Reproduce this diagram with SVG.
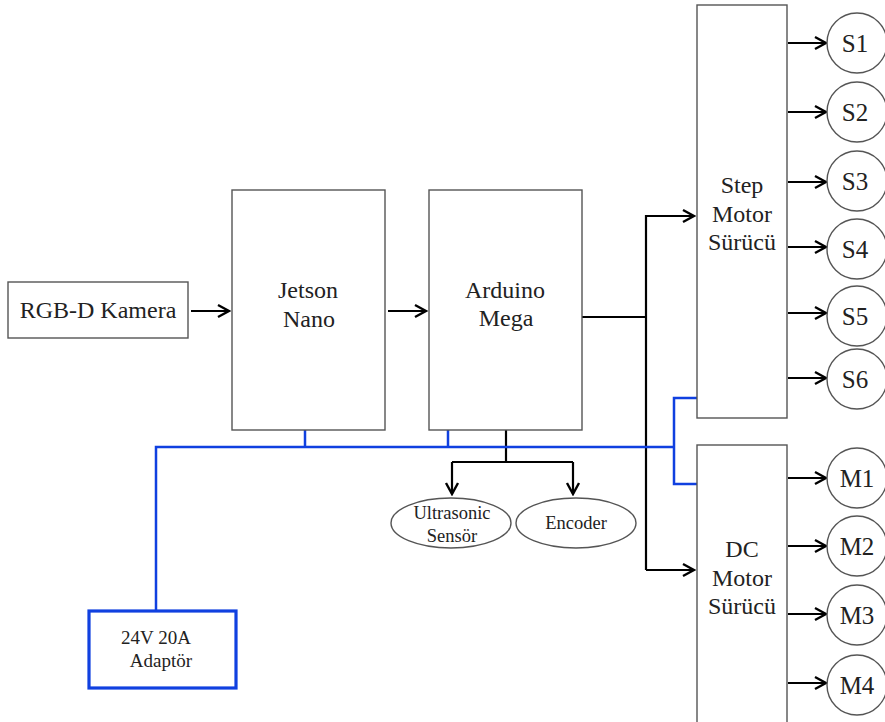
<svg xmlns="http://www.w3.org/2000/svg" width="885" height="722" viewBox="0 0 885 722">
<defs>
<marker id="ah" markerUnits="userSpaceOnUse" markerWidth="16" markerHeight="16" viewBox="0 0 16 16" refX="14" refY="8" orient="auto">
<path d="M3,2 L14,8 L3,14" fill="none" stroke="#000" stroke-width="2.4"/>
</marker>
</defs>
<style>
.box{fill:#fff;stroke:#555;stroke-width:1.4}
.t{font-family:"Liberation Serif","Times New Roman",serif;fill:#222;text-anchor:middle}
.big{font-size:24px}
.cl{font-size:25px}
.sm{font-size:18.5px}
.ar{stroke:#000;stroke-width:2.2;fill:none;marker-end:url(#ah)}
.ln{stroke:#000;stroke-width:2.2;fill:none}
.pw{stroke:#1040e0;stroke-width:2.5;fill:none}
</style>
<rect width="885" height="722" fill="#fff"/>
<g id="connectors">
<line class="ar" x1="191" y1="311" x2="229" y2="311"/>
<line class="ar" x1="388" y1="311" x2="426" y2="311"/>
<polyline class="ln" points="582,317 646,317"/>
<polyline class="ar" points="646,570 646,216 694,216"/>
<line class="ar" x1="646" y1="570" x2="694" y2="570"/>
<line class="ln" x1="506" y1="430" x2="506" y2="462"/>
<polyline class="ar" points="452,462 452,494"/>
<polyline class="ln" points="452,462 573,462"/>
<line class="ar" x1="573" y1="462" x2="573" y2="494"/>
<line class="ar" x1="788" y1="43" x2="826" y2="43"/>
<line class="ar" x1="788" y1="112" x2="826" y2="112"/>
<line class="ar" x1="788" y1="182" x2="826" y2="182"/>
<line class="ar" x1="788" y1="247" x2="826" y2="247"/>
<line class="ar" x1="788" y1="313" x2="826" y2="313"/>
<line class="ar" x1="788" y1="378" x2="826" y2="378"/>
<line class="ar" x1="788" y1="478" x2="826" y2="478"/>
<line class="ar" x1="788" y1="546" x2="826" y2="546"/>
<line class="ar" x1="788" y1="614" x2="826" y2="614"/>
<line class="ar" x1="788" y1="683" x2="826" y2="683"/>
<polyline class="pw" points="156,611 156,447 674,447"/>
<line class="pw" x1="305" y1="430" x2="305" y2="447"/>
<line class="pw" x1="448" y1="430" x2="448" y2="447"/>
<polyline class="pw" points="697,398 674,398 674,484 697,484"/>
</g>
<g id="kamera">
<rect class="box" x="8" y="282" width="180" height="56"/>
<text class="t big" x="98" y="318">RGB-D Kamera</text>
</g>
<g id="jetson">
<rect class="box" x="232" y="190" width="153" height="240"/>
<text class="t big" x="308" y="298">Jetson</text>
<text class="t big" x="309" y="327">Nano</text>
</g>
<g id="arduino">
<rect class="box" x="429" y="190" width="153" height="240"/>
<text class="t big" x="505" y="298">Arduino</text>
<text class="t big" x="506" y="326">Mega</text>
</g>
<g id="step">
<rect class="box" x="697" y="5" width="90" height="413"/>
<text class="t big" x="742" y="193">Step</text>
<text class="t big" x="742" y="222">Motor</text>
<text class="t big" x="742" y="250">Sürücü</text>
</g>
<g id="dc">
<rect class="box" x="697" y="445" width="90" height="290"/>
<text class="t big" x="742" y="557">DC</text>
<text class="t big" x="742" y="586">Motor</text>
<text class="t big" x="742" y="614">Sürücü</text>
</g>
<g id="ultrasonic">
<ellipse class="box" cx="451" cy="523" rx="60" ry="25"/>
<text class="t sm" x="452" y="519">Ultrasonic</text>
<text class="t sm" x="452" y="542">Sensör</text>
</g>
<g id="encoder">
<ellipse class="box" cx="576" cy="523" rx="60" ry="25"/>
<text class="t sm" x="576" y="529">Encoder</text>
</g>
<g id="adaptor">
<rect x="89" y="611" width="147" height="77" fill="#fff" stroke="#1040e0" stroke-width="3.2"/>
<text class="t" font-size="19" x="156" y="644">24V 20A</text>
<text class="t" font-size="19" x="161" y="667">Adaptör</text>
</g>
<g id="s1"><circle class="box" cx="857" cy="43" r="30"/><text class="t cl" x="855" y="52">S1</text></g>
<g id="s2"><circle class="box" cx="857" cy="112" r="30"/><text class="t cl" x="855" y="121">S2</text></g>
<g id="s3"><circle class="box" cx="857" cy="181" r="30"/><text class="t cl" x="855" y="190">S3</text></g>
<g id="s4"><circle class="box" cx="857" cy="249" r="30"/><text class="t cl" x="855" y="258">S4</text></g>
<g id="s5"><circle class="box" cx="857" cy="316" r="30"/><text class="t cl" x="855" y="325">S5</text></g>
<g id="s6"><circle class="box" cx="857" cy="379" r="30"/><text class="t cl" x="855" y="388">S6</text></g>
<g id="m1"><circle class="box" cx="857" cy="478" r="30"/><text class="t cl" x="857" y="487">M1</text></g>
<g id="m2"><circle class="box" cx="857" cy="546" r="30"/><text class="t cl" x="857" y="555">M2</text></g>
<g id="m3"><circle class="box" cx="857" cy="615" r="30"/><text class="t cl" x="857" y="624">M3</text></g>
<g id="m4"><circle class="box" cx="857" cy="685" r="30"/><text class="t cl" x="857" y="694">M4</text></g>
</svg>
